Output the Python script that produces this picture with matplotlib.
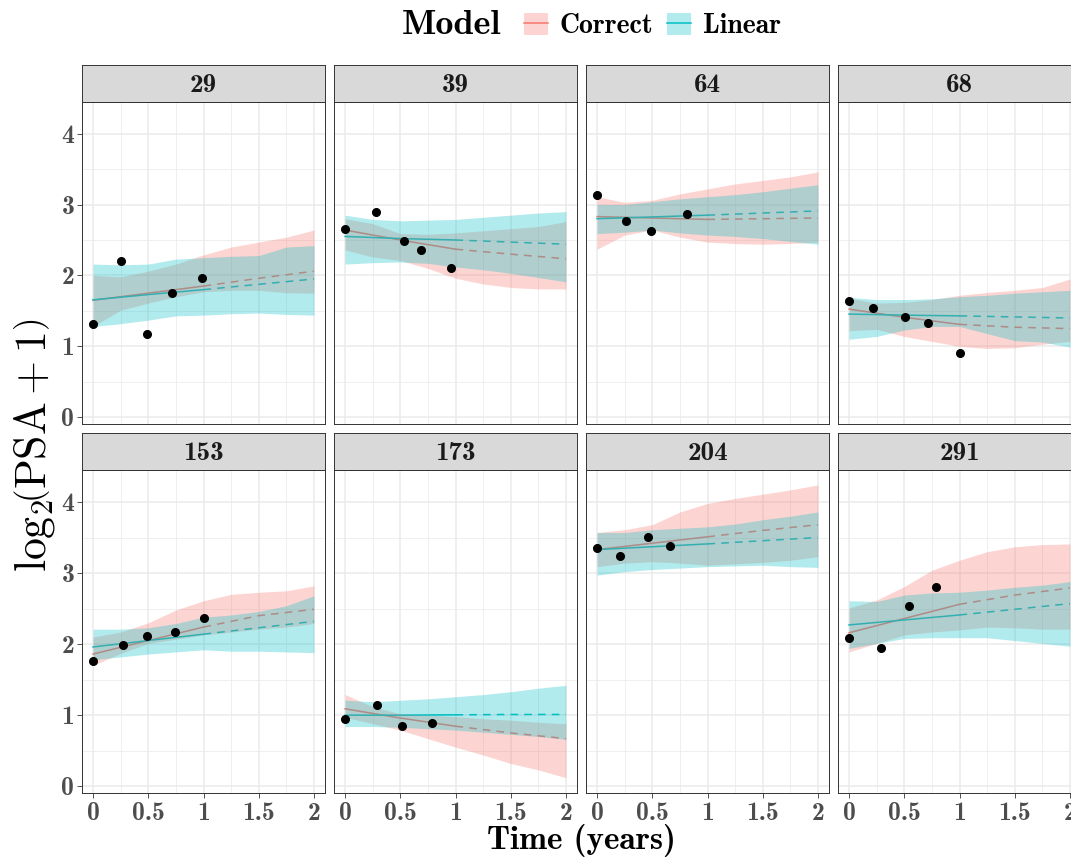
import matplotlib
matplotlib.use('Agg')
import matplotlib.pyplot as plt
from matplotlib.patches import Patch
from matplotlib.lines import Line2D
import numpy as np

plt.rcParams['mathtext.fontset'] = 'cm'

# facet labels (patient ids)
patients = ['29', '39', '64', '68', '153', '173', '204', '291']

# observed log2(PSA + 1) per patient
obs_time = [[0, 0.25, 0.485, 0.717, 0.984],
            [0, 0.28, 0.53, 0.69, 0.955],
            [0, 0.26, 0.49, 0.81],
            [0, 0.215, 0.51, 0.715, 1.0],
            [0, 0.27, 0.49, 0.74, 1.0],
            [0, 0.29, 0.52, 0.79],
            [0, 0.21, 0.46, 0.66],
            [0, 0.29, 0.54, 0.785]]
obs_psa = [[1.32, 2.21, 1.18, 1.755, 1.96],
           [2.65, 2.89, 2.48, 2.36, 2.10],
           [3.13, 2.77, 2.63, 2.87],
           [1.64, 1.54, 1.42, 1.33, 0.90],
           [1.76, 1.99, 2.11, 2.17, 2.37],
           [0.94, 1.15, 0.85, 0.89],
           [3.35, 3.24, 3.51, 3.38],
           [2.08, 1.95, 2.53, 2.80]]

# fitted mean curves (solid up to 1 year, dashed prediction after)
fit_time = [0, 0.5, 1, 1.5, 2]
correct_fit = [[1.65, 1.75, 1.85, 1.96, 2.06],
               [2.64, 2.50, 2.37, 2.30, 2.235],
               [2.83, 2.81, 2.79, 2.80, 2.81],
               [1.525, 1.41, 1.31, 1.27, 1.25],
               [1.86, 2.05, 2.24, 2.40, 2.49],
               [1.09, 0.96, 0.845, 0.75, 0.67],
               [3.33, 3.42, 3.51, 3.60, 3.68],
               [2.16, 2.36, 2.56, 2.69, 2.79]]
linear_fit = [[1.656, 1.73, 1.80, 1.875, 1.95],
              [2.55, 2.52, 2.50, 2.47, 2.44],
              [2.80, 2.825, 2.85, 2.88, 2.91],
              [1.455, 1.44, 1.43, 1.415, 1.40],
              [1.96, 2.05, 2.14, 2.23, 2.32],
              [1.0, 1.0, 1.005, 1.01, 1.01],
              [3.33, 3.37, 3.41, 3.455, 3.50],
              [2.27, 2.34, 2.41, 2.49, 2.57]]

# credible bands
band_time = [0, 0.25, 0.5, 0.75, 1, 1.25, 1.5, 1.75, 2]
correct_lo = [[1.28, 1.51, 1.61, 1.70, 1.77, 1.79, 1.79, 1.755, 1.75],
              [2.36, 2.26, 2.21, 2.10, 1.96, 1.88, 1.83, 1.81, 1.81],
              [2.37, 2.57, 2.64, 2.54, 2.47, 2.45, 2.44, 2.45, 2.47],
              [1.22, 1.24, 1.14, 1.07, 1.00, 0.97, 0.98, 1.03, 1.07],
              [1.70, 1.87, 2.01, 2.07, 2.13, 2.17, 2.21, 2.24, 2.29],
              [0.97, 0.88, 0.79, 0.67, 0.55, 0.44, 0.32, 0.23, 0.12],
              [3.09, 3.14, 3.16, 3.14, 3.11, 3.13, 3.15, 3.18, 3.23],
              [1.89, 2.01, 2.13, 2.17, 2.20, 2.24, 2.23, 2.21, 2.21]]
correct_hi = [[2.00, 1.98, 2.06, 2.16, 2.29, 2.40, 2.47, 2.54, 2.64],
              [2.80, 2.73, 2.59, 2.58, 2.60, 2.63, 2.66, 2.69, 2.76],
              [3.11, 3.03, 3.06, 3.15, 3.22, 3.29, 3.34, 3.39, 3.46],
              [1.68, 1.61, 1.62, 1.66, 1.72, 1.76, 1.79, 1.83, 1.95],
              [2.10, 2.17, 2.30, 2.48, 2.61, 2.70, 2.73, 2.75, 2.82],
              [1.29, 1.12, 1.02, 1.00, 0.98, 0.95, 0.93, 0.90, 0.88],
              [3.57, 3.61, 3.68, 3.86, 3.98, 4.05, 4.11, 4.17, 4.24],
              [2.51, 2.62, 2.81, 3.04, 3.18, 3.30, 3.37, 3.40, 3.41]]
linear_lo = [[1.28, 1.32, 1.37, 1.43, 1.44, 1.46, 1.47, 1.45, 1.44],
             [2.16, 2.18, 2.19, 2.17, 2.12, 2.08, 2.03, 1.97, 1.91],
             [2.59, 2.61, 2.64, 2.60, 2.57, 2.55, 2.52, 2.48, 2.44],
             [1.10, 1.14, 1.23, 1.28, 1.28, 1.18, 1.08, 1.06, 0.99],
             [1.78, 1.82, 1.86, 1.89, 1.92, 1.90, 1.90, 1.89, 1.88],
             [0.84, 0.84, 0.83, 0.81, 0.79, 0.76, 0.73, 0.70, 0.66],
             [2.97, 3.02, 3.05, 3.07, 3.09, 3.10, 3.11, 3.09, 3.08],
             [1.94, 2.01, 2.08, 2.09, 2.09, 2.09, 2.05, 2.01, 1.97]]
linear_hi = [[2.16, 2.15, 2.16, 2.23, 2.25, 2.27, 2.28, 2.40, 2.42],
             [2.85, 2.79, 2.77, 2.78, 2.79, 2.82, 2.85, 2.88, 2.90],
             [3.00, 3.00, 3.04, 3.08, 3.11, 3.14, 3.18, 3.23, 3.28],
             [1.69, 1.66, 1.66, 1.67, 1.70, 1.72, 1.75, 1.77, 1.79],
             [2.21, 2.21, 2.23, 2.29, 2.38, 2.41, 2.46, 2.54, 2.68],
             [1.21, 1.19, 1.21, 1.23, 1.26, 1.29, 1.33, 1.38, 1.42],
             [3.57, 3.57, 3.61, 3.63, 3.65, 3.69, 3.75, 3.80, 3.86],
             [2.61, 2.60, 2.69, 2.72, 2.73, 2.76, 2.80, 2.83, 2.88]]

x_ticks = [0, 0.5, 1, 1.5, 2]
x_tick_labels = ['0', '0.5', '1', '1.5', '2']
y_ticks = [0, 1, 2, 3, 4]
y_tick_labels = ['0', '1', '2', '3', '4']

RED = '#F8766D'
TEAL = '#00BFC4'
BOLD = 'cmb10'   # computer modern bold, shipped with matplotlib

W, H = 1071, 857
fig = plt.figure(figsize=(W / 100, H / 100), dpi=100)

col_left = [82, 334, 586, 838]
panel_w = 243
rows = [(65, 101.7, 424), (433, 470, 793)]  # strip top, panel top, panel bottom

for i, pid in enumerate(patients):
    r, c = divmod(i, 4)
    s_top, p_top, p_bot = rows[r]
    left = col_left[c]
    ax = fig.add_axes([left / W, 1 - p_bot / H, panel_w / W, (p_bot - p_top) / H])
    sax = fig.add_axes([left / W, 1 - p_top / H, panel_w / W, (p_top - s_top) / H])

    # lines underneath, ribbons on top (ggplot layer order)
    for fit, col in [(correct_fit[i], RED), (linear_fit[i], TEAL)]:
        ax.plot(fit_time[:3], fit[:3], color=col, lw=1.1, zorder=2)
        ax.plot(fit_time[2:], fit[2:], color=col, lw=1.1, ls=(0, (5, 4)), zorder=2)
    ax.fill_between(band_time, correct_lo[i], correct_hi[i], color=RED, alpha=0.3, lw=0, zorder=3)
    ax.fill_between(band_time, linear_lo[i], linear_hi[i], color=TEAL, alpha=0.3, lw=0, zorder=3)
    ax.plot(obs_time[i], obs_psa[i], 'o', color='black', ms=5.5, zorder=4)

    ax.set_xlim(-0.1, 2.1)
    ax.set_ylim(-0.095, 4.45)
    ax.set_xticks(x_ticks)
    ax.set_yticks(y_ticks)
    ax.set_xticks([0.25, 0.75, 1.25, 1.75], minor=True)
    ax.set_yticks([0.5, 1.5, 2.5, 3.5], minor=True)
    ax.grid(which='major', color='#EBEBEB', lw=1.1)
    ax.grid(which='minor', color='#EBEBEB', lw=0.55)
    ax.set_axisbelow(True)
    ax.tick_params(which='minor', length=0)
    ax.tick_params(which='major', length=3.5, width=0.6, color='#333333', labelcolor='#4D4D4D',
                   labelsize=18.5)
    ax.tick_params(axis='x', pad=3)
    ax.tick_params(axis='y', pad=2)
    if r == 1:
        ax.set_xticklabels(x_tick_labels, fontfamily=BOLD)
    else:
        ax.set_xticklabels([])
        ax.tick_params(axis='x', length=0)
    if c == 0:
        ax.set_yticklabels(y_tick_labels, fontfamily=BOLD)
    else:
        ax.set_yticklabels([])
        ax.tick_params(axis='y', length=0)
    for sp in ax.spines.values():
        sp.set_color('#333333')
        sp.set_linewidth(0.7)

    sax.set_facecolor('#D9D9D9')
    sax.set_xticks([])
    sax.set_yticks([])
    for sp in sax.spines.values():
        sp.set_color('#333333')
        sp.set_linewidth(0.7)
    sax.text(0.5, 0.45, pid, ha='center', va='center', fontsize=19.5, color='#1A1A1A',
             fontfamily=BOLD, transform=sax.transAxes)

# axis titles
fig.text(581 / W, 1 - 849 / H, 'Time (years)', ha='center', va='baseline', fontsize=24,
         fontfamily=BOLD)
fig.text(35 / W, 1 - 445 / H, r'$\mathrm{log}_2\!\left(\mathrm{PSA}+1\right)$', rotation=90,
         ha='center', va='center', fontsize=31.5)

# legend on top
fig.text(402 / W, 1 - 26 / H, 'Model', ha='left', va='center', fontsize=26, fontfamily=BOLD)
handles = [(Patch(facecolor=RED, alpha=0.3, lw=0), Line2D([], [], color=RED, lw=1.1)),
           (Patch(facecolor=TEAL, alpha=0.3, lw=0), Line2D([], [], color=TEAL, lw=1.1))]
fig.legend(handles, ['Correct', 'Linear'], loc='center left',
           bbox_to_anchor=(510 / W, 1 - 26 / H), ncol=2, frameon=False, borderpad=0,
           prop={'family': BOLD, 'size': 20},
           handlelength=0.86, handleheight=0.86, handletextpad=0.42, columnspacing=0.5)

fig.savefig('out.png', dpi=100)
